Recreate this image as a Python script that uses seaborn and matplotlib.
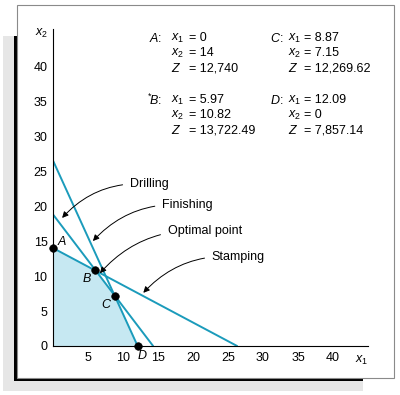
import matplotlib
matplotlib.use('Agg')
import matplotlib.pyplot as plt
from matplotlib.patches import Rectangle
import seaborn as sns

# constraint lines: intercepts on each axis
constraints = ['Drilling', 'Finishing', 'Stamping']
x1_intercepts = [14.3, 12.09, 26.3]
x2_intercepts = [18.8, 26.5, 14.0]

# corner points of the feasible region
corners = ['A', 'B', 'C', 'D']
corner_x1 = [0, 5.97, 8.87, 12.09]
corner_x2 = [14, 10.82, 7.15, 0]
corner_z = ['12,740', '13,722.49', '12,269.62', '7,857.14']
corner_x1_txt = ['0', '5.97', '8.87', '12.09']
corner_x2_txt = ['14', '10.82', '7.15', '0']

line_color = '#1b9bbb'
fill_color = '#c6e8f2'

sns.set_style('white')
plt.rcParams['font.family'] = ['Liberation Sans', 'DejaVu Sans']
plt.rcParams['mathtext.fontset'] = 'custom'
plt.rcParams['mathtext.it'] = 'Liberation Sans:italic'
plt.rcParams['mathtext.rm'] = 'Liberation Sans'
plt.rcParams['text.color'] = 'black'
plt.rcParams['xtick.labelcolor'] = 'black'
plt.rcParams['ytick.labelcolor'] = 'black'

fig = plt.figure(figsize=(4.0, 3.95), dpi=100)
W, H = 400, 395

def frect(x0, y0, x1, y1, **kw):
    # rectangle given in pixel coords (top-left origin)
    r = Rectangle((x0 / W, 1 - y1 / H), (x1 - x0) / W, (y1 - y0) / H,
                  transform=fig.transFigure, **kw)
    fig.patches.append(r)

# framed panel with shadow
frect(3, 36, 363, 391, facecolor='#e6e6e6', edgecolor='none', zorder=-10)
frect(14, 36, 363, 381, facecolor='black', edgecolor='none', zorder=-9)
frect(17, 5, 394, 378, facecolor='white', edgecolor='#8a8a8a', lw=0.8, zorder=-8)

ax = fig.add_axes([53 / W, 1 - 346 / H, 315 / W, 317 / H])
ax.patch.set_visible(False)

# feasible region
ax.fill([0] + corner_x1, [0] + corner_x2, color=fill_color, lw=0, zorder=1)

for name, xi, yi in zip(constraints, x1_intercepts, x2_intercepts):
    sns.lineplot(x=[0, xi], y=[yi, 0], color=line_color, lw=1.4, ax=ax, zorder=2)

sns.scatterplot(x=corner_x1, y=corner_x2, color='black', s=30, ax=ax,
                zorder=4, clip_on=False, edgecolor='black')

# corner labels
label_pos = [(1.3, 14.9), (4.8, 9.6), (7.6, 5.9), (12.75, -1.5)]
for name, (lx, ly) in zip(corners, label_pos):
    ax.text(lx, ly, name, style='italic', fontsize=9, ha='center',
            va='center', clip_on=False)

# annotations with curved arrows
ann = [('Drilling', (11.0, 23.1), (1.3, 18.3)),
       ('Finishing', (15.6, 20.1), (5.7, 15.0)),
       ('Optimal point', (16.4, 16.4), (6.7, 10.4)),
       ('Stamping', (22.7, 12.7), (12.9, 7.6))]
for txt, (tx, ty), (px, py) in ann:
    ax.annotate(txt, xy=(px, py), xytext=(tx, ty), fontsize=9,
                ha='left', va='center',
                arrowprops=dict(arrowstyle='-|>', color='black', lw=0.7,
                                shrinkA=3, shrinkB=0, mutation_scale=9,
                                connectionstyle='arc3,rad=0.25'))

# solution block
cols = {'A': (0, 0), 'B': (0, 1), 'C': (1, 0), 'D': (1, 1)}
col_x = [(15.6, 16.8, 19.4), (32.9, 33.6, 35.9)]
row_y = [(44.0, 41.85, 39.7), (35.15, 33.0, 30.8)]
for i, name in enumerate(corners):
    c, r = cols[name]
    lx, vx, ex = col_x[c]
    ys = row_y[r]
    lab = r'$^{*}\!B$:' if name == 'B' else f'${name}$:'
    ax.text(lx, ys[0], lab, ha='right', va='center', fontsize=9)
    ax.text(vx, ys[0], r'$x_1$', ha='left', va='center', fontsize=9)
    ax.text(vx, ys[1], r'$x_2$', ha='left', va='center', fontsize=9)
    ax.text(vx, ys[2], r'$Z$', ha='left', va='center', fontsize=9)
    ax.text(ex, ys[0], '= ' + corner_x1_txt[i], ha='left', va='center', fontsize=9)
    ax.text(ex, ys[1], '= ' + corner_x2_txt[i], ha='left', va='center', fontsize=9)
    ax.text(ex, ys[2], '= ' + corner_z[i], ha='left', va='center', fontsize=9)

# axes styling
ax.set_xlim(0, 45)
ax.set_ylim(0, 45.3)
ax.set_xticks(range(5, 45, 5))
ax.set_yticks(range(0, 45, 5))
ax.tick_params(direction='in', length=4.5, width=0.7, color='#999999',
               labelsize=9, pad=4)
ax.yaxis.get_major_ticks()[0].tick1line.set_visible(False)
for s in ['top', 'right']:
    ax.spines[s].set_visible(False)
for s in ['left', 'bottom']:
    ax.spines[s].set_linewidth(0.8)
    ax.spines[s].set_color('black')
ax.set_xlabel('')
ax.set_ylabel('')
ax.text(44.1, -2.0, r'$x_1$', ha='center', va='center', fontsize=9, clip_on=False)
ax.text(-1.6, 44.6, r'$x_2$', ha='center', va='center', fontsize=9, clip_on=False)

fig.savefig('out.png', dpi=100)
